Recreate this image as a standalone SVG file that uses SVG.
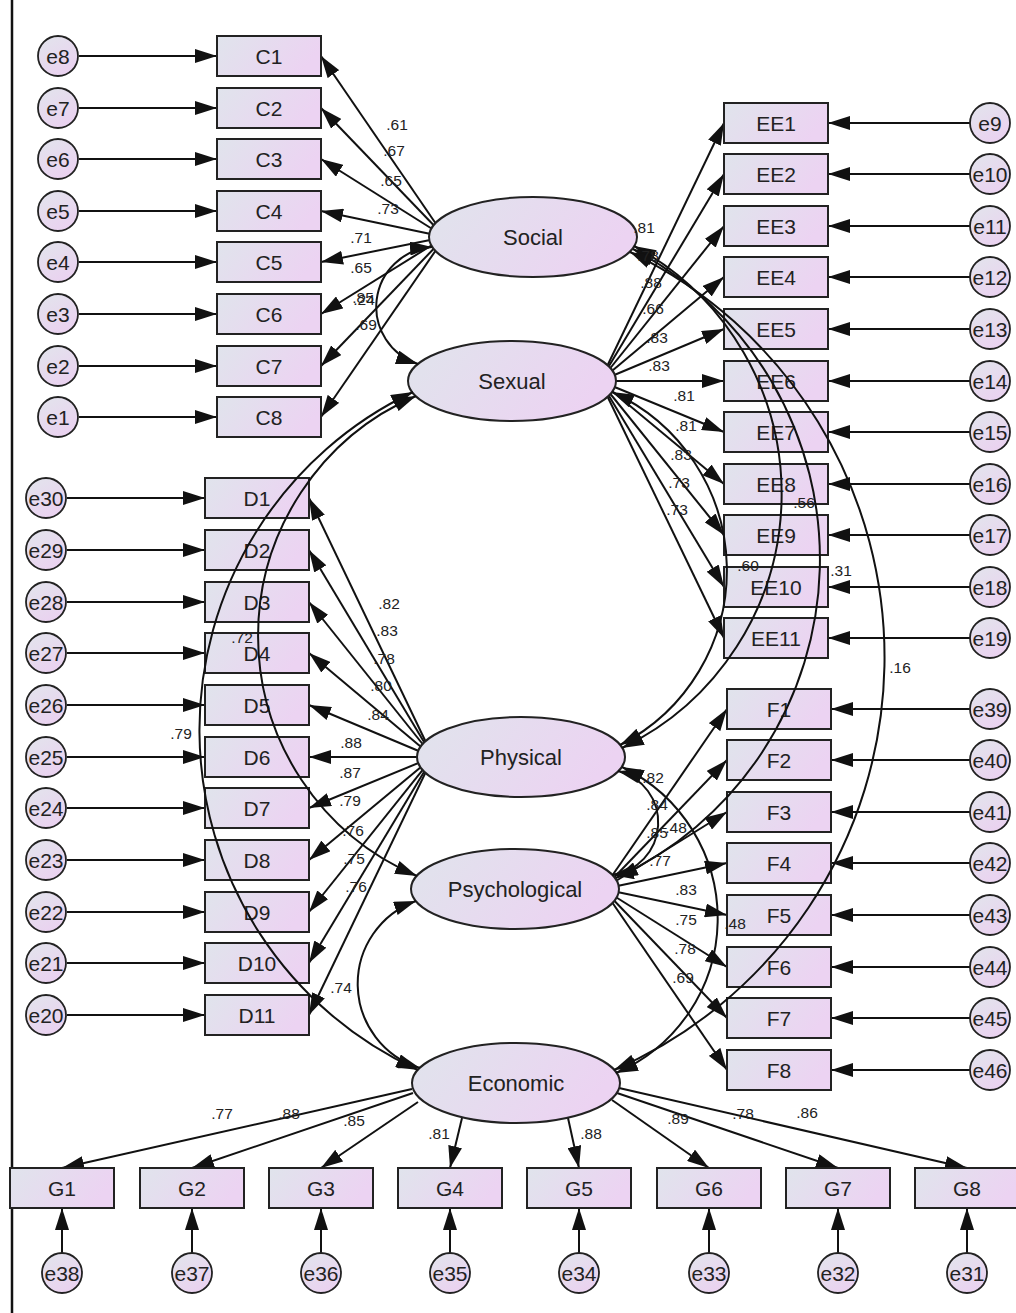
<svg xmlns="http://www.w3.org/2000/svg" width="1016" height="1313" viewBox="0 0 1016 1313">
<defs>
<linearGradient id="g" x1="0" y1="0" x2="1" y2="0.3"><stop offset="0" stop-color="#e0e4ec"/><stop offset="1" stop-color="#ecd3f2"/></linearGradient>
<linearGradient id="ge" x1="0" y1="0" x2="0.6" y2="1"><stop offset="0" stop-color="#e2e5ec"/><stop offset="1" stop-color="#ead2f0"/></linearGradient>
<marker id="ah" markerUnits="userSpaceOnUse" markerWidth="22" markerHeight="14" refX="22" refY="7" orient="auto"><path d="M0,0 L22,7 L0,14 z" fill="#111"/></marker>
<marker id="ah2" markerUnits="userSpaceOnUse" markerWidth="22" markerHeight="14" refX="22" refY="7" orient="auto-start-reverse"><path d="M0,0 L22,7 L0,14 z" fill="#111"/></marker>
</defs>
<style>
.box{fill:url(#g);stroke:#222;stroke-width:2}
.lat{fill:url(#g);stroke:#222;stroke-width:2}
.err{fill:url(#ge);stroke:#222;stroke-width:1.8}
.ln{stroke:#111;stroke-width:2;fill:none;marker-end:url(#ah)}
.cv{stroke:#111;stroke-width:2;fill:none;marker-start:url(#ah2);marker-end:url(#ah2)}
text{font-family:"Liberation Sans",Arial,sans-serif;fill:#222;text-anchor:middle;dominant-baseline:central}
.t{font-size:21px}
.lt{font-size:22px}
.n{font-size:15.5px}
</style>
<rect width="1016" height="1313" fill="#fff"/>
<line x1="12" y1="0" x2="12" y2="1313" stroke="#111" stroke-width="2.5"/>

<g id="connectors-paths">
<line class="ln" x1="79" y1="56" x2="217" y2="56"/>
<line class="ln" x1="79" y1="108" x2="217" y2="108"/>
<line class="ln" x1="79" y1="159" x2="217" y2="159"/>
<line class="ln" x1="79" y1="211" x2="217" y2="211"/>
<line class="ln" x1="79" y1="262" x2="217" y2="262"/>
<line class="ln" x1="79" y1="314" x2="217" y2="314"/>
<line class="ln" x1="79" y1="366" x2="217" y2="366"/>
<line class="ln" x1="79" y1="417" x2="217" y2="417"/>
<line class="ln" x1="970" y1="123" x2="828" y2="123"/>
<line class="ln" x1="970" y1="174" x2="828" y2="174"/>
<line class="ln" x1="970" y1="226" x2="828" y2="226"/>
<line class="ln" x1="970" y1="277" x2="828" y2="277"/>
<line class="ln" x1="970" y1="329" x2="828" y2="329"/>
<line class="ln" x1="970" y1="381" x2="828" y2="381"/>
<line class="ln" x1="970" y1="432" x2="828" y2="432"/>
<line class="ln" x1="970" y1="484" x2="828" y2="484"/>
<line class="ln" x1="970" y1="535" x2="828" y2="535"/>
<line class="ln" x1="970" y1="587" x2="828" y2="587"/>
<line class="ln" x1="970" y1="638" x2="828" y2="638"/>
<line class="ln" x1="67" y1="498" x2="205" y2="498"/>
<line class="ln" x1="67" y1="550" x2="205" y2="550"/>
<line class="ln" x1="67" y1="602" x2="205" y2="602"/>
<line class="ln" x1="67" y1="653" x2="205" y2="653"/>
<line class="ln" x1="67" y1="705" x2="205" y2="705"/>
<line class="ln" x1="67" y1="757" x2="205" y2="757"/>
<line class="ln" x1="67" y1="808" x2="205" y2="808"/>
<line class="ln" x1="67" y1="860" x2="205" y2="860"/>
<line class="ln" x1="67" y1="912" x2="205" y2="912"/>
<line class="ln" x1="67" y1="963" x2="205" y2="963"/>
<line class="ln" x1="67" y1="1015" x2="205" y2="1015"/>
<line class="ln" x1="970" y1="709" x2="831" y2="709"/>
<line class="ln" x1="970" y1="760" x2="831" y2="760"/>
<line class="ln" x1="970" y1="812" x2="831" y2="812"/>
<line class="ln" x1="970" y1="863" x2="831" y2="863"/>
<line class="ln" x1="970" y1="915" x2="831" y2="915"/>
<line class="ln" x1="970" y1="967" x2="831" y2="967"/>
<line class="ln" x1="970" y1="1018" x2="831" y2="1018"/>
<line class="ln" x1="970" y1="1070" x2="831" y2="1070"/>
<line class="ln" x1="62" y1="1253" x2="62" y2="1208"/>
<line class="ln" x1="192" y1="1253" x2="192" y2="1208"/>
<line class="ln" x1="321" y1="1253" x2="321" y2="1208"/>
<line class="ln" x1="450" y1="1253" x2="450" y2="1208"/>
<line class="ln" x1="579" y1="1253" x2="579" y2="1208"/>
<line class="ln" x1="709" y1="1253" x2="709" y2="1208"/>
<line class="ln" x1="838" y1="1253" x2="838" y2="1208"/>
<line class="ln" x1="967" y1="1253" x2="967" y2="1208"/>
<line class="ln" x1="445" y1="237" x2="321" y2="56"/>
<line class="ln" x1="445" y1="237" x2="321" y2="108"/>
<line class="ln" x1="445" y1="237" x2="321" y2="159"/>
<line class="ln" x1="445" y1="237" x2="321" y2="211"/>
<line class="ln" x1="445" y1="237" x2="321" y2="262"/>
<line class="ln" x1="445" y1="237" x2="321" y2="314"/>
<line class="ln" x1="445" y1="237" x2="321" y2="366"/>
<line class="ln" x1="445" y1="237" x2="321" y2="417"/>
<line class="ln" x1="600" y1="381" x2="724" y2="123"/>
<line class="ln" x1="600" y1="381" x2="724" y2="174"/>
<line class="ln" x1="600" y1="381" x2="724" y2="226"/>
<line class="ln" x1="600" y1="381" x2="724" y2="277"/>
<line class="ln" x1="600" y1="381" x2="724" y2="329"/>
<line class="ln" x1="600" y1="381" x2="724" y2="381"/>
<line class="ln" x1="600" y1="381" x2="724" y2="432"/>
<line class="ln" x1="600" y1="381" x2="724" y2="484"/>
<line class="ln" x1="600" y1="381" x2="724" y2="535"/>
<line class="ln" x1="600" y1="381" x2="724" y2="587"/>
<line class="ln" x1="600" y1="381" x2="724" y2="638"/>
<line class="ln" x1="433" y1="757" x2="309" y2="498"/>
<line class="ln" x1="433" y1="757" x2="309" y2="550"/>
<line class="ln" x1="433" y1="757" x2="309" y2="602"/>
<line class="ln" x1="433" y1="757" x2="309" y2="653"/>
<line class="ln" x1="433" y1="757" x2="309" y2="705"/>
<line class="ln" x1="433" y1="757" x2="309" y2="757"/>
<line class="ln" x1="433" y1="757" x2="309" y2="808"/>
<line class="ln" x1="433" y1="757" x2="309" y2="860"/>
<line class="ln" x1="433" y1="757" x2="309" y2="912"/>
<line class="ln" x1="433" y1="757" x2="309" y2="963"/>
<line class="ln" x1="433" y1="757" x2="309" y2="1015"/>
<line class="ln" x1="603" y1="889" x2="727" y2="709"/>
<line class="ln" x1="603" y1="889" x2="727" y2="760"/>
<line class="ln" x1="603" y1="889" x2="727" y2="812"/>
<line class="ln" x1="603" y1="889" x2="727" y2="863"/>
<line class="ln" x1="603" y1="889" x2="727" y2="915"/>
<line class="ln" x1="603" y1="889" x2="727" y2="967"/>
<line class="ln" x1="603" y1="889" x2="727" y2="1018"/>
<line class="ln" x1="603" y1="889" x2="727" y2="1070"/>
<line class="ln" x1="412" y1="1089" x2="62" y2="1168"/>
<line class="ln" x1="413" y1="1093" x2="192" y2="1168"/>
<line class="ln" x1="418" y1="1102" x2="321" y2="1168"/>
<line class="ln" x1="462" y1="1118" x2="450" y2="1168"/>
<line class="ln" x1="568" y1="1118" x2="579" y2="1168"/>
<line class="ln" x1="612" y1="1100" x2="709" y2="1168"/>
<line class="ln" x1="617" y1="1093" x2="838" y2="1168"/>
<line class="ln" x1="619" y1="1088" x2="967" y2="1168"/>
</g>

<g id="nodes">
<g id="e8"><circle class="err" cx="58" cy="56" r="20"/><text class="t" x="58" y="56">e8</text></g>
<g id="e7"><circle class="err" cx="58" cy="108" r="20"/><text class="t" x="58" y="108">e7</text></g>
<g id="e6"><circle class="err" cx="58" cy="159" r="20"/><text class="t" x="58" y="159">e6</text></g>
<g id="e5"><circle class="err" cx="58" cy="211" r="20"/><text class="t" x="58" y="211">e5</text></g>
<g id="e4"><circle class="err" cx="58" cy="262" r="20"/><text class="t" x="58" y="262">e4</text></g>
<g id="e3"><circle class="err" cx="58" cy="314" r="20"/><text class="t" x="58" y="314">e3</text></g>
<g id="e2"><circle class="err" cx="58" cy="366" r="20"/><text class="t" x="58" y="366">e2</text></g>
<g id="e1"><circle class="err" cx="58" cy="417" r="20"/><text class="t" x="58" y="417">e1</text></g>

<g id="C1"><rect class="box" x="217" y="36" width="104" height="40"/><text class="t" x="269" y="56">C1</text></g>
<g id="C2"><rect class="box" x="217" y="88" width="104" height="40"/><text class="t" x="269" y="108">C2</text></g>
<g id="C3"><rect class="box" x="217" y="139" width="104" height="40"/><text class="t" x="269" y="159">C3</text></g>
<g id="C4"><rect class="box" x="217" y="191" width="104" height="40"/><text class="t" x="269" y="211">C4</text></g>
<g id="C5"><rect class="box" x="217" y="242" width="104" height="40"/><text class="t" x="269" y="262">C5</text></g>
<g id="C6"><rect class="box" x="217" y="294" width="104" height="40"/><text class="t" x="269" y="314">C6</text></g>
<g id="C7"><rect class="box" x="217" y="346" width="104" height="40"/><text class="t" x="269" y="366">C7</text></g>
<g id="C8"><rect class="box" x="217" y="397" width="104" height="40"/><text class="t" x="269" y="417">C8</text></g>

<g id="EE1"><rect class="box" x="724" y="103" width="104" height="40"/><text class="t" x="776" y="123">EE1</text></g>
<g id="EE2"><rect class="box" x="724" y="154" width="104" height="40"/><text class="t" x="776" y="174">EE2</text></g>
<g id="EE3"><rect class="box" x="724" y="206" width="104" height="40"/><text class="t" x="776" y="226">EE3</text></g>
<g id="EE4"><rect class="box" x="724" y="257" width="104" height="40"/><text class="t" x="776" y="277">EE4</text></g>
<g id="EE5"><rect class="box" x="724" y="309" width="104" height="40"/><text class="t" x="776" y="329">EE5</text></g>
<g id="EE6"><rect class="box" x="724" y="361" width="104" height="40"/><text class="t" x="776" y="381">EE6</text></g>
<g id="EE7"><rect class="box" x="724" y="412" width="104" height="40"/><text class="t" x="776" y="432">EE7</text></g>
<g id="EE8"><rect class="box" x="724" y="464" width="104" height="40"/><text class="t" x="776" y="484">EE8</text></g>
<g id="EE9"><rect class="box" x="724" y="515" width="104" height="40"/><text class="t" x="776" y="535">EE9</text></g>
<g id="EE10"><rect class="box" x="724" y="567" width="104" height="40"/><text class="t" x="776" y="587">EE10</text></g>
<g id="EE11"><rect class="box" x="724" y="618" width="104" height="40"/><text class="t" x="776" y="638">EE11</text></g>

<g id="e9"><circle class="err" cx="990" cy="123" r="20"/><text class="t" x="990" y="123">e9</text></g>
<g id="e10"><circle class="err" cx="990" cy="174" r="20"/><text class="t" x="990" y="174">e10</text></g>
<g id="e11"><circle class="err" cx="990" cy="226" r="20"/><text class="t" x="990" y="226">e11</text></g>
<g id="e12"><circle class="err" cx="990" cy="277" r="20"/><text class="t" x="990" y="277">e12</text></g>
<g id="e13"><circle class="err" cx="990" cy="329" r="20"/><text class="t" x="990" y="329">e13</text></g>
<g id="e14"><circle class="err" cx="990" cy="381" r="20"/><text class="t" x="990" y="381">e14</text></g>
<g id="e15"><circle class="err" cx="990" cy="432" r="20"/><text class="t" x="990" y="432">e15</text></g>
<g id="e16"><circle class="err" cx="990" cy="484" r="20"/><text class="t" x="990" y="484">e16</text></g>
<g id="e17"><circle class="err" cx="990" cy="535" r="20"/><text class="t" x="990" y="535">e17</text></g>
<g id="e18"><circle class="err" cx="990" cy="587" r="20"/><text class="t" x="990" y="587">e18</text></g>
<g id="e19"><circle class="err" cx="990" cy="638" r="20"/><text class="t" x="990" y="638">e19</text></g>

<g id="e30"><circle class="err" cx="46" cy="498" r="20"/><text class="t" x="46" y="498">e30</text></g>
<g id="e29"><circle class="err" cx="46" cy="550" r="20"/><text class="t" x="46" y="550">e29</text></g>
<g id="e28"><circle class="err" cx="46" cy="602" r="20"/><text class="t" x="46" y="602">e28</text></g>
<g id="e27"><circle class="err" cx="46" cy="653" r="20"/><text class="t" x="46" y="653">e27</text></g>
<g id="e26"><circle class="err" cx="46" cy="705" r="20"/><text class="t" x="46" y="705">e26</text></g>
<g id="e25"><circle class="err" cx="46" cy="757" r="20"/><text class="t" x="46" y="757">e25</text></g>
<g id="e24"><circle class="err" cx="46" cy="808" r="20"/><text class="t" x="46" y="808">e24</text></g>
<g id="e23"><circle class="err" cx="46" cy="860" r="20"/><text class="t" x="46" y="860">e23</text></g>
<g id="e22"><circle class="err" cx="46" cy="912" r="20"/><text class="t" x="46" y="912">e22</text></g>
<g id="e21"><circle class="err" cx="46" cy="963" r="20"/><text class="t" x="46" y="963">e21</text></g>
<g id="e20"><circle class="err" cx="46" cy="1015" r="20"/><text class="t" x="46" y="1015">e20</text></g>

<g id="D1"><rect class="box" x="205" y="478" width="104" height="40"/><text class="t" x="257" y="498">D1</text></g>
<g id="D2"><rect class="box" x="205" y="530" width="104" height="40"/><text class="t" x="257" y="550">D2</text></g>
<g id="D3"><rect class="box" x="205" y="582" width="104" height="40"/><text class="t" x="257" y="602">D3</text></g>
<g id="D4"><rect class="box" x="205" y="633" width="104" height="40"/><text class="t" x="257" y="653">D4</text></g>
<g id="D5"><rect class="box" x="205" y="685" width="104" height="40"/><text class="t" x="257" y="705">D5</text></g>
<g id="D6"><rect class="box" x="205" y="737" width="104" height="40"/><text class="t" x="257" y="757">D6</text></g>
<g id="D7"><rect class="box" x="205" y="788" width="104" height="40"/><text class="t" x="257" y="808">D7</text></g>
<g id="D8"><rect class="box" x="205" y="840" width="104" height="40"/><text class="t" x="257" y="860">D8</text></g>
<g id="D9"><rect class="box" x="205" y="892" width="104" height="40"/><text class="t" x="257" y="912">D9</text></g>
<g id="D10"><rect class="box" x="205" y="943" width="104" height="40"/><text class="t" x="257" y="963">D10</text></g>
<g id="D11"><rect class="box" x="205" y="995" width="104" height="40"/><text class="t" x="257" y="1015">D11</text></g>

<g id="F1"><rect class="box" x="727" y="689" width="104" height="40"/><text class="t" x="779" y="709">F1</text></g>
<g id="F2"><rect class="box" x="727" y="740" width="104" height="40"/><text class="t" x="779" y="760">F2</text></g>
<g id="F3"><rect class="box" x="727" y="792" width="104" height="40"/><text class="t" x="779" y="812">F3</text></g>
<g id="F4"><rect class="box" x="727" y="843" width="104" height="40"/><text class="t" x="779" y="863">F4</text></g>
<g id="F5"><rect class="box" x="727" y="895" width="104" height="40"/><text class="t" x="779" y="915">F5</text></g>
<g id="F6"><rect class="box" x="727" y="947" width="104" height="40"/><text class="t" x="779" y="967">F6</text></g>
<g id="F7"><rect class="box" x="727" y="998" width="104" height="40"/><text class="t" x="779" y="1018">F7</text></g>
<g id="F8"><rect class="box" x="727" y="1050" width="104" height="40"/><text class="t" x="779" y="1070">F8</text></g>

<g id="e39"><circle class="err" cx="990" cy="709" r="20"/><text class="t" x="990" y="709">e39</text></g>
<g id="e40"><circle class="err" cx="990" cy="760" r="20"/><text class="t" x="990" y="760">e40</text></g>
<g id="e41"><circle class="err" cx="990" cy="812" r="20"/><text class="t" x="990" y="812">e41</text></g>
<g id="e42"><circle class="err" cx="990" cy="863" r="20"/><text class="t" x="990" y="863">e42</text></g>
<g id="e43"><circle class="err" cx="990" cy="915" r="20"/><text class="t" x="990" y="915">e43</text></g>
<g id="e44"><circle class="err" cx="990" cy="967" r="20"/><text class="t" x="990" y="967">e44</text></g>
<g id="e45"><circle class="err" cx="990" cy="1018" r="20"/><text class="t" x="990" y="1018">e45</text></g>
<g id="e46"><circle class="err" cx="990" cy="1070" r="20"/><text class="t" x="990" y="1070">e46</text></g>

<g id="G1"><rect class="box" x="10" y="1168" width="104" height="40"/><text class="t" x="62" y="1188">G1</text></g>
<g id="G2"><rect class="box" x="140" y="1168" width="104" height="40"/><text class="t" x="192" y="1188">G2</text></g>
<g id="G3"><rect class="box" x="269" y="1168" width="104" height="40"/><text class="t" x="321" y="1188">G3</text></g>
<g id="G4"><rect class="box" x="398" y="1168" width="104" height="40"/><text class="t" x="450" y="1188">G4</text></g>
<g id="G5"><rect class="box" x="527" y="1168" width="104" height="40"/><text class="t" x="579" y="1188">G5</text></g>
<g id="G6"><rect class="box" x="657" y="1168" width="104" height="40"/><text class="t" x="709" y="1188">G6</text></g>
<g id="G7"><rect class="box" x="786" y="1168" width="104" height="40"/><text class="t" x="838" y="1188">G7</text></g>
<g id="G8"><rect class="box" x="915" y="1168" width="104" height="40"/><text class="t" x="967" y="1188">G8</text></g>

<g id="e38"><circle class="err" cx="62" cy="1273" r="20"/><text class="t" x="62" y="1273">e38</text></g>
<g id="e37"><circle class="err" cx="192" cy="1273" r="20"/><text class="t" x="192" y="1273">e37</text></g>
<g id="e36"><circle class="err" cx="321" cy="1273" r="20"/><text class="t" x="321" y="1273">e36</text></g>
<g id="e35"><circle class="err" cx="450" cy="1273" r="20"/><text class="t" x="450" y="1273">e35</text></g>
<g id="e34"><circle class="err" cx="579" cy="1273" r="20"/><text class="t" x="579" y="1273">e34</text></g>
<g id="e33"><circle class="err" cx="709" cy="1273" r="20"/><text class="t" x="709" y="1273">e33</text></g>
<g id="e32"><circle class="err" cx="838" cy="1273" r="20"/><text class="t" x="838" y="1273">e32</text></g>
<g id="e31"><circle class="err" cx="967" cy="1273" r="20"/><text class="t" x="967" y="1273">e31</text></g>

<g id="Social"><ellipse class="lat" cx="533" cy="237" rx="104" ry="40"/><text class="lt" x="533" y="237">Social</text></g>
<g id="Sexual"><ellipse class="lat" cx="512" cy="381" rx="104" ry="40"/><text class="lt" x="512" y="381">Sexual</text></g>
<g id="Physical"><ellipse class="lat" cx="521" cy="757" rx="104" ry="40"/><text class="lt" x="521" y="757">Physical</text></g>
<g id="Psychological"><ellipse class="lat" cx="515" cy="889" rx="104" ry="40"/><text class="lt" x="515" y="889">Psychological</text></g>
<g id="Economic"><ellipse class="lat" cx="516" cy="1083" rx="104" ry="40"/><text class="lt" x="516" y="1083">Economic</text></g>
</g>

<g id="connectors-covariances">
<path class="cv" d="M432,247 A60,60 0 0 0 418,364"/>
<path class="cv" d="M416,396 A261,261 0 0 0 417,876"/>
<path class="cv" d="M413,392 A374,374 0 0 0 418,1070"/>
<path class="cv" d="M416,901 A88,88 0 0 0 420,1068"/>
<path class="cv" d="M634,246 A282,282 0 0 1 622,748"/>
<path class="cv" d="M633,249 A351,351 0 0 1 616,878"/>
<path class="cv" d="M630,252 A450,450 0 0 1 614,1070"/>
<path class="cv" d="M612,392 A196,196 0 0 1 620,745"/>
<path class="cv" d="M618,771 A53,53 0 0 1 612,875"/>
<path class="cv" d="M622,767 A168,168 0 0 1 616,1073"/>
</g>

<g id="labels">
<text class="n" x="397" y="124">.61</text>
<text class="n" x="394" y="150">.67</text>
<text class="n" x="391" y="180">.65</text>
<text class="n" x="388" y="208">.73</text>
<text class="n" x="361" y="237">.71</text>
<text class="n" x="361" y="267">.65</text>
<text class="n" x="363" y="297">.85</text>
<text class="n" x="364" y="299">.24</text>
<text class="n" x="366" y="324">.69</text>

<text class="n" x="644" y="227">.81</text>
<text class="n" x="648" y="255">.78</text>
<text class="n" x="651" y="282">.88</text>
<text class="n" x="653" y="308">.66</text>
<text class="n" x="657" y="337">.83</text>
<text class="n" x="659" y="365">.83</text>
<text class="n" x="684" y="395">.81</text>
<text class="n" x="686" y="425">.81</text>
<text class="n" x="681" y="454">.83</text>
<text class="n" x="679" y="482">.73</text>
<text class="n" x="677" y="509">.73</text>

<text class="n" x="804" y="502">.56</text>
<text class="n" x="748" y="565">.60</text>
<text class="n" x="841" y="570">.31</text>
<text class="n" x="900" y="667">.16</text>
<text class="n" x="242" y="637">.72</text>
<text class="n" x="181" y="733">.79</text>
<text class="n" x="341" y="987">.74</text>
<text class="n" x="676" y="827">.48</text>
<text class="n" x="735" y="923">.48</text>

<text class="n" x="389" y="603">.82</text>
<text class="n" x="387" y="630">.83</text>
<text class="n" x="384" y="658">.78</text>
<text class="n" x="381" y="685">.80</text>
<text class="n" x="378" y="714">.84</text>
<text class="n" x="351" y="742">.88</text>
<text class="n" x="350" y="772">.87</text>
<text class="n" x="350" y="800">.79</text>
<text class="n" x="353" y="830">.76</text>
<text class="n" x="354" y="858">.75</text>
<text class="n" x="356" y="886">.76</text>

<text class="n" x="653" y="777">.82</text>
<text class="n" x="657" y="804">.84</text>
<text class="n" x="657" y="832">.85</text>
<text class="n" x="660" y="860">.77</text>
<text class="n" x="686" y="889">.83</text>
<text class="n" x="686" y="919">.75</text>
<text class="n" x="685" y="948">.78</text>
<text class="n" x="683" y="977">.69</text>

<text class="n" x="222" y="1113">.77</text>
<text class="n" x="289" y="1113">.88</text>
<text class="n" x="354" y="1120">.85</text>
<text class="n" x="439" y="1133">.81</text>
<text class="n" x="591" y="1133">.88</text>
<text class="n" x="678" y="1118">.89</text>
<text class="n" x="743" y="1113">.78</text>
<text class="n" x="807" y="1112">.86</text>
</g>
</svg>
